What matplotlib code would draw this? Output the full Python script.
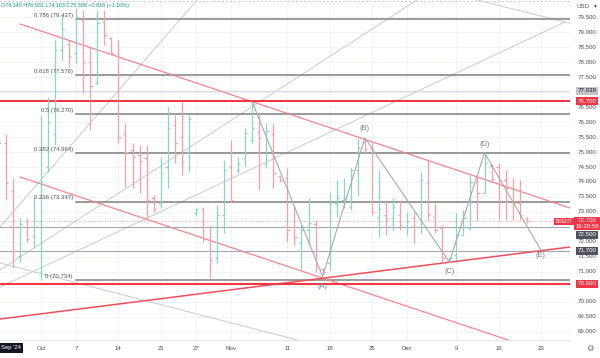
import matplotlib
matplotlib.use('Agg')
import matplotlib.pyplot as plt

plt.rcParams['font.family'] = ['Liberation Sans', 'DejaVu Sans']

# ---------------- data ----------------
# bar index: 0 = 1 Oct 2024 (Sun-Fri sessions, one bar per session)
bar_idx = list(range(-6, 70))
opens = [74.34, 75.30, 73.70, 71.53, 72.70, 72.20, 72.70, 74.50, 75.60, 78.40,
         78.60, 78.30, 79.40, 78.00, 77.30, 79.33, 78.80, 78.20, 75.60, 75.07,
         74.90, 74.80, 73.45, 73.30, 74.50, 75.90, 75.50, 75.00, 72.95, 73.10,
         72.07, 71.47, 72.90, 74.50, 74.40, 74.80, 75.40, 75.67, 74.60, 75.60,
         74.20, 74.13, 72.50, 71.97, 72.40, 72.60, 71.10, 71.30, 73.30, 73.40,
         73.17, 74.40, 75.33, 75.10, 72.83, 72.90, 72.80, 72.90, 72.50, 72.80,
         72.50, 74.00, 72.83, 72.47, 71.38, 71.57, 72.23, 72.47, 74.00, 73.63,
         74.55, 74.50, 74.07, 73.80, 73.30, 72.80]
highs = [76.03, 75.60, 74.13, 72.80, 72.80, 73.50, 76.23, 76.83, 78.73, 79.57,
         78.73, 79.80, 79.73, 78.50, 79.73, 79.73, 78.83, 78.73, 75.97, 75.30,
         75.23, 75.23, 73.57, 74.80, 76.50, 76.23, 76.67, 76.23, 73.13, 73.17,
         72.57, 73.23, 74.73, 75.40, 74.83, 75.80, 76.67, 76.33, 75.97, 75.97,
         74.23, 74.47, 73.23, 72.57, 73.47, 72.73, 71.13, 73.63, 74.07, 74.13,
         74.47, 75.47, 75.47, 75.33, 74.40, 73.40, 73.47, 73.40, 73.00, 73.00,
         74.33, 74.73, 73.30, 72.57, 71.50, 72.97, 73.07, 74.23, 74.17, 74.97,
         74.60, 74.63, 74.40, 74.13, 74.07, 72.83]
lows = [74.16, 73.40, 71.13, 71.33, 72.00, 71.80, 70.73, 74.33, 75.23, 78.07,
        77.83, 77.97, 76.97, 75.73, 77.23, 78.57, 78.23, 75.30, 73.83, 73.80,
        73.63, 72.80, 73.00, 73.13, 73.80, 74.63, 74.23, 74.33, 72.85, 72.00,
        70.80, 71.30, 72.30, 73.33, 74.30, 74.50, 75.30, 73.73, 74.47, 73.80,
        74.00, 72.00, 71.90, 71.07, 71.90, 71.00, 70.90, 71.07, 72.83, 73.13,
        73.07, 73.57, 74.97, 72.90, 72.17, 72.23, 72.40, 72.40, 72.23, 71.97,
        72.30, 72.73, 72.30, 71.30, 71.33, 71.40, 72.23, 72.40, 72.73, 73.63,
        74.00, 72.73, 72.73, 72.73, 72.73, 72.63]
closes = [75.31, 73.95, 71.70, 72.60, 72.10, 72.70, 74.00, 76.00, 78.40, 79.10,
          78.20, 79.50, 78.00, 77.20, 79.30, 78.90, 78.30, 75.50, 75.00, 74.83,
          74.70, 73.40, 73.10, 74.30, 75.80, 75.30, 74.67, 76.10, 73.10, 72.10,
          71.40, 72.90, 74.40, 73.40, 74.60, 75.63, 75.80, 75.47, 75.70, 74.30,
          74.05, 72.40, 72.17, 72.40, 72.63, 71.20, 71.00, 73.30, 73.47, 73.47,
          74.40, 75.13, 75.10, 73.00, 73.10, 72.80, 73.17, 72.57, 72.70, 72.50,
          74.07, 72.90, 72.40, 71.47, 71.47, 72.23, 72.80, 74.00, 73.63, 74.63,
          74.10, 74.07, 73.80, 73.30, 72.90, 72.70]

date_tick_idx = [0, 5, 11, 17, 22, 27, 35, 41, 47, 52, 59, 65, 71]
date_tick_lbl = ['Oct', '7', '14', '21', '27', 'Nov', '11', '18', '25', 'Dec', '9', '16', '23']

price_ticks = [79.5, 79.0, 78.5, 78.0, 77.5, 76.5, 76.0, 75.5, 75.0, 74.5, 74.0,
               73.5, 73.0, 72.0, 71.5, 71.0, 70.0, 69.5, 69.0]
grid_prices = [69.0, 69.5, 70.0, 70.5, 71.0, 71.5, 72.0, 72.5, 73.0, 73.5, 74.0,
               74.5, 75.0, 75.5, 76.0, 76.5, 77.0, 77.5, 78.0, 78.5, 79.0, 79.5]

fib_ratios = ['0.786', '0.618', '0.5', '0.382', '0.236', '0']
fib_prices = [79.437, 77.576, 76.270, 74.964, 73.347, 70.734]
fib_start = 4.97

red_levels = [76.700, 70.600]
gray_levels = [72.500, 71.700]
faint_level = 77.039
last_price = 72.702

# trend lines: (idx0, price0, idx1, price1)
red_channel = [(-2.98, 79.267, 75.14, 73.133), (-2.98, 74.167, 68.04, 68.60)]
red_support = (-5.82, 69.433, 75.14, 71.833)
gray_lines = [(-5.82, 72.50, 22.16, 80.067), (-5.82, 71.067, 53.4, 80.067),
              (-5.82, 70.50, 74.43, 79.333), (61.93, 80.067, 75.57, 79.267),
              (-5.82, 71.30, 37.5, 68.667)]

wave_idx = [30, 40, 46, 58, 63, 71]
wave_price = [76.67, 70.85, 75.47, 71.33, 74.97, 71.73]
wave_lbl = ['', '(A)', '(B)', '(C)', '(D)', '(E)']
wave_lbl_dy = [0, -0.33, 0.33, -0.33, 0.27, -0.18]

# ---------------- figure ----------------
W, H = 600, 358
fig = plt.figure(figsize=(6.0, 3.58), dpi=100)
ax = fig.add_axes([0, 18 / H, 570 / W, 340 / H])
ax.set_xlim(-5.824, 75.14)
ax.set_ylim(68.733, 80.067)
for s in ax.spines.values():
    s.set_visible(False)
ax.set_xticks([])
ax.set_yticks([])

# grid
for p in grid_prices:
    ax.axhline(p, color='#f0f3fa', lw=0.7, zorder=0)
for t in date_tick_idx:
    ax.axvline(t, color='#f0f3fa', lw=0.7, zorder=0)

# top dashed separator
ax.axhline(80.03, color='#c3c6ce', lw=0.7, ls=(0, (2, 2)), zorder=1)

# gray trend lines
for (x0, y0, x1, y1) in gray_lines:
    ax.plot([x0, x1], [y0, y1], color='#cdd0d6', lw=0.8, zorder=1)

# horizontal levels
ax.axhline(faint_level, color='#d9dbe0', lw=0.8, zorder=1)
for p in gray_levels:
    ax.axhline(p, color='#a5a8b0', lw=0.8, zorder=1)
ax.axhline(last_price, color='#f4a3a8', lw=0.7, ls=(0, (1, 1.5)), zorder=1)

# fib levels
for r, p in zip(fib_ratios, fib_prices):
    ax.plot([fib_start, 75.14], [p, p], color='#808080', lw=1.1, zorder=2)
    ax.text(fib_start - 0.45, p + 0.04, f'{r} ({p:.3f})', ha='right', va='bottom',
            fontsize=4.3, color='#50535e', zorder=5)

# red lines
for (x0, y0, x1, y1) in red_channel:
    ax.plot([x0, x1], [y0, y1], color='#f4868c', lw=0.9, zorder=2)
x0, y0, x1, y1 = red_support
ax.plot([x0, x1], [y0, y1], color='#ee4f5a', lw=1.1, zorder=2)
for p in red_levels:
    ax.axhline(p, color='#f23645', lw=1.5, zorder=2)

# OHLC bars
tick = 0.32
for i, o, h, l, c in zip(bar_idx, opens, highs, lows, closes):
    col = '#8fd3c6' if c >= o else '#f6a2a4'
    ax.plot([i, i], [l, h], color=col, lw=0.9, zorder=3, solid_capstyle='butt')
    ax.plot([i - tick, i], [o, o], color=col, lw=0.9, zorder=3, solid_capstyle='butt')
    ax.plot([i, i + tick], [c, c], color=col, lw=0.9, zorder=3, solid_capstyle='butt')

# Elliott wave
ax.plot(wave_idx, wave_price, color='#a7aab2', lw=0.8, zorder=4)
for xi, yi, lb, dy in zip(wave_idx, wave_price, wave_lbl, wave_lbl_dy):
    if lb:
        ax.text(xi, yi + dy, lb, ha='center', va='center', fontsize=5.3,
                color='#787b86', zorder=5)

# x-axis date labels
xt = ax.get_xaxis_transform()
for t, lb in zip(date_tick_idx, date_tick_lbl):
    ax.text(t, -8 / 340, lb, transform=xt, ha='center', va='center',
            fontsize=4.4, color='#4a4d57', clip_on=False)
fig.text(1 / W, 1 - 348 / H, "Sep '24", ha='left', va='center', fontsize=4.2,
         color='white', bbox=dict(boxstyle='square,pad=0.35', fc='#131722', ec='none'))
fig.add_artist(plt.Line2D([0, 570 / W], [18 / H, 18 / H], color='#e0e3eb', lw=0.6))

# right price scale
yt = ax.get_yaxis_transform()
for p in price_ticks:
    ax.text(587 / 570, p, f'{p:.3f}', transform=yt, ha='center', va='center',
            fontsize=4.4, color='#4a4d57', clip_on=False)

def tag(price, text, fc, tc='white', x=587):
    ax.text(x / 570, price, text, transform=yt, ha='center', va='center',
            fontsize=4.4, color=tc, clip_on=False, zorder=6,
            bbox=dict(boxstyle='square,pad=0.25', fc=fc, ec='none'))

tag(faint_level, f'{faint_level:.3f}', '#c4c6cc', tc='#131722')
tag(red_levels[0], f'{red_levels[0]:.3f}', '#f23645')
tag(red_levels[1], f'{red_levels[1]:.3f}', '#f23645')
tag(gray_levels[1], f'{gray_levels[1]:.3f}', '#50535e')
tag(72.24, f'{gray_levels[0]:.3f}', '#50535e')
ax.text(587 / 570, last_price - 0.08, f'{last_price:.3f}\n16:28:56', transform=yt,
        ha='center', va='center', fontsize=4.4, color='white', clip_on=False,
        linespacing=1.1, zorder=7,
        bbox=dict(boxstyle='square,pad=0.2', fc='#f23645', ec='none'))
ax.text(564 / 570, last_price - 0.02, 'BRENT', transform=yt, ha='center', va='center',
        fontsize=3.6, color='white', clip_on=False, zorder=7,
        bbox=dict(boxstyle='square,pad=0.25', fc='#f23645', ec='none'))

fig.text(583 / W, 1 - 6 / H, 'USD', ha='center', va='center', fontsize=4.4, color='#4a4d57')
fig.text(595 / W, 1 - 6 / H, '▾', ha='center', va='center', fontsize=4, color='#4a4d57',
         family='DejaVu Sans')
fig.text(590 / W, 1 - 348 / H, '⚙', ha='center', va='center', fontsize=6, color='#6a6d78',
         family='DejaVu Sans')

# OHLC header
fig.text(1 / W, 1 - 6 / H, 'O74.340 H76.031 L74.163 C75.308 +0.816 (+1.10%)',
         ha='left', va='center', fontsize=3.9, color='#089981')

fig.savefig('out.png', dpi=100, facecolor='white')
